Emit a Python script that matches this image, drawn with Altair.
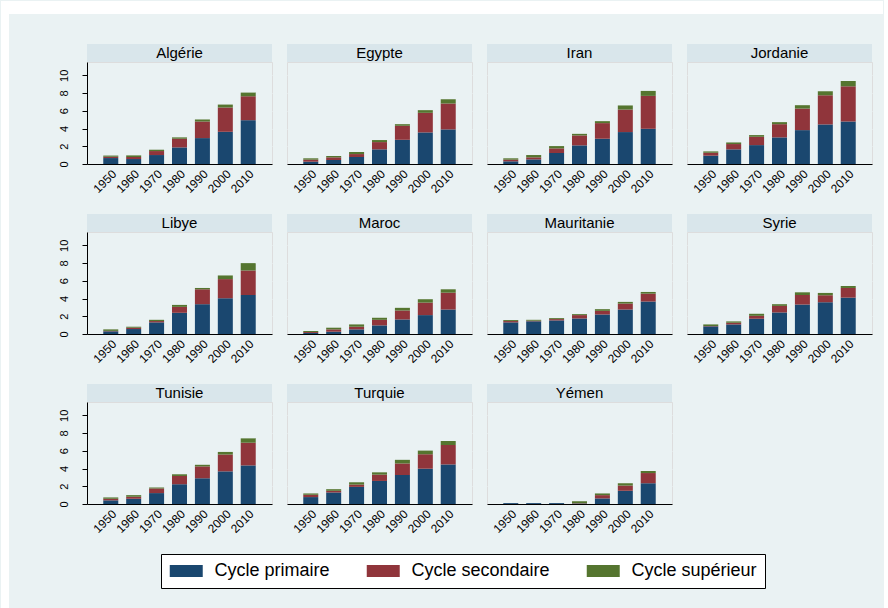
import altair as alt
import pandas as pd

# Pays, années et cycles d'enseignement
pays = ["Algérie", "Egypte", "Iran", "Jordanie", "Libye", "Maroc",
        "Mauritanie", "Syrie", "Tunisie", "Turquie", "Yémen"]
annees = ["1950", "1960", "1970", "1980", "1990", "2000", "2010"]
cycles = ["Cycle primaire", "Cycle secondaire", "Cycle supérieur"]
couleurs = ["#1a476f", "#90353b", "#55752f"]
graduations = [0, 2, 4, 6, 8, 10]

# Années moyennes de scolarisation par cycle (1950 ... 2010)
primaire = {
    "Algérie":    [0.67, 0.56, 1.01, 1.87, 2.92, 3.63, 4.94],
    "Egypte":     [0.26, 0.45, 0.79, 1.65, 2.73, 3.56, 3.90],
    "Iran":       [0.30, 0.52, 1.24, 2.10, 2.85, 3.60, 3.97],
    "Jordanie":   [0.94, 1.65, 2.13, 3.00, 3.82, 4.46, 4.79],
    "Libye":      [0.30, 0.56, 1.31, 2.39, 3.36, 4.03, 4.40],
    "Maroc":      [0.11, 0.26, 0.52, 0.97, 1.64, 2.13, 2.76],
    "Mauritanie": [1.31, 1.43, 1.53, 1.75, 2.20, 2.76, 3.66],
    "Syrie":      [0.86, 1.08, 1.72, 2.43, 3.32, 3.58, 4.10],
    "Tunisie":    [0.41, 0.59, 1.23, 2.23, 2.90, 3.68, 4.35],
    "Turquie":    [0.78, 1.30, 1.93, 2.60, 3.27, 3.98, 4.46],
    "Yémen":      [0.10, 0.10, 0.10, 0.05, 0.63, 1.49, 2.34],
}
secondaire = {
    "Algérie":    [0.15, 0.23, 0.45, 0.98, 1.87, 2.74, 2.70],
    "Egypte":     [0.23, 0.30, 0.33, 0.82, 1.58, 2.21, 2.92],
    "Iran":       [0.19, 0.23, 0.52, 1.12, 1.76, 2.54, 3.71],
    "Jordanie":   [0.33, 0.60, 0.94, 1.49, 2.43, 3.29, 3.97],
    "Libye":      [0.05, 0.15, 0.15, 0.67, 1.68, 2.16, 2.76],
    "Maroc":      [0.11, 0.26, 0.30, 0.63, 1.01, 1.41, 1.90],
    "Mauritanie": [0.15, 0.07, 0.15, 0.38, 0.41, 0.67, 0.89],
    "Syrie":      [0.04, 0.19, 0.33, 0.74, 1.08, 0.79, 1.09],
    "Tunisie":    [0.18, 0.23, 0.52, 0.93, 1.34, 1.90, 2.56],
    "Turquie":    [0.26, 0.19, 0.26, 0.71, 1.30, 1.63, 2.19],
    "Yémen":      [0.00, 0.00, 0.00, 0.04, 0.37, 0.59, 1.15],
}
superieur = {
    "Algérie":    [0.13, 0.18, 0.15, 0.15, 0.23, 0.33, 0.41],
    "Egypte":     [0.15, 0.15, 0.23, 0.23, 0.18, 0.30, 0.48],
    "Iran":       [0.15, 0.26, 0.26, 0.18, 0.22, 0.46, 0.56],
    "Jordanie":   [0.15, 0.18, 0.19, 0.23, 0.38, 0.45, 0.60],
    "Libye":      [0.17, 0.11, 0.14, 0.22, 0.15, 0.41, 0.83],
    "Maroc":      [0.12, 0.19, 0.26, 0.23, 0.30, 0.38, 0.38],
    "Mauritanie": [0.11, 0.10, 0.11, 0.11, 0.19, 0.19, 0.19],
    "Syrie":      [0.18, 0.15, 0.23, 0.19, 0.30, 0.26, 0.22],
    "Tunisie":    [0.15, 0.18, 0.11, 0.19, 0.18, 0.29, 0.49],
    "Turquie":    [0.15, 0.18, 0.26, 0.26, 0.41, 0.41, 0.45],
    "Yémen":      [0.00, 0.00, 0.00, 0.22, 0.19, 0.26, 0.23],
}

lignes = []
for p in pays:
    for k, (cycle, serie) in enumerate(zip(cycles, [primaire, secondaire, superieur])):
        for a, v in zip(annees, serie[p]):
            lignes.append({"pays": p, "annee": a, "cycle": cycle, "ordre": k, "valeur": v})
df = pd.DataFrame(lignes)

FOND = "#eaf2f3"
BANDEAU = "#d9e6eb"
L, H = 185, 102
POLICE = "Liberation Sans"

# symbole rectangulaire 33 x 12 px, décalé pour commencer au bord de l'entrée
legende = alt.Legend(
    orient="none", legendX=74, legendY=492, direction="horizontal", columns=3,
    title=None, symbolType="M-1,-0.727H3V0.727H-1Z", symbolSize=272,
    symbolStrokeWidth=0, labelFontSize=18, labelFont=POLICE, labelColor="black",
    labelOffset=27.5, columnPadding=36, padding=8, strokeColor="black",
    fillColor="white", cornerRadius=0, labelLimit=400,
)


def panneau(i, nom):
    d = df[df["pays"] == nom]
    if i % 4 == 0:
        axe_y = alt.Axis(values=graduations, title=None, labelAngle=-90,
                         labelAlign="center", labelBaseline="bottom", labelPadding=13,
                         labelFontSize=11, labelColor="black", tickSize=5,
                         tickColor="black", domainColor="black", grid=True,
                         gridColor=FOND)
    else:
        axe_y = alt.Axis(values=graduations, title=None, labels=False, ticks=False,
                         domain=False, grid=True, gridColor=FOND)
    barres = alt.Chart(d).mark_bar().encode(
        x=alt.X("annee:N", sort=annees,
                scale=alt.Scale(paddingInner=0.345, paddingOuter=0.71),
                axis=alt.Axis(title=None, labelAngle=-45, ticks=False, labelFontSize=12,
                              labelColor="black", labelPadding=4, domainColor="black")),
        y=alt.Y("valeur:Q", stack="zero",
                scale=alt.Scale(domain=[0, 11.5], nice=False), axis=axe_y),
        color=alt.Color("cycle:N", sort=cycles,
                        scale=alt.Scale(domain=cycles, range=couleurs), legend=legende),
        order=alt.Order("ordre:Q", sort="ascending"),
    )
    etiquette = pd.DataFrame({"pays": [nom]})
    bande = alt.Chart(etiquette).mark_rect(color=BANDEAU).encode(
        x=alt.value(0), x2=alt.value(L), y=alt.value(-18), y2=alt.value(0))
    titre = alt.Chart(etiquette).mark_text(
        fontSize=15, font=POLICE, color="black", align="center", baseline="middle"
    ).encode(text="pays:N", x=alt.value(L / 2), y=alt.value(-9))
    couches = [barres, bande, titre]
    if i == 0:
        # marge blanche en haut et à gauche de la figure
        haut = alt.Chart(etiquette).mark_rect(color="white").encode(
            x=alt.value(-86), x2=alt.value(796), y=alt.value(-61), y2=alt.value(-48))
        gauche = alt.Chart(etiquette).mark_rect(color="white").encode(
            x=alt.value(-86), x2=alt.value(-78), y=alt.value(-61), y2=alt.value(547))
        couches = [haut, gauche] + couches
    return alt.layer(*couches).properties(width=L, height=H)


chart = alt.concat(
    *[panneau(i, p) for i, p in enumerate(pays)],
    columns=4, spacing={"row": 68, "column": 15}, bounds="flush",
).properties(
    padding={"left": 0, "top": 0, "right": 0, "bottom": 0},
    background=FOND,
).configure_view(stroke=None, fill="white").configure(font=POLICE)

chart.save("out.html", embed_options={"renderer": "svg", "actions": False})
